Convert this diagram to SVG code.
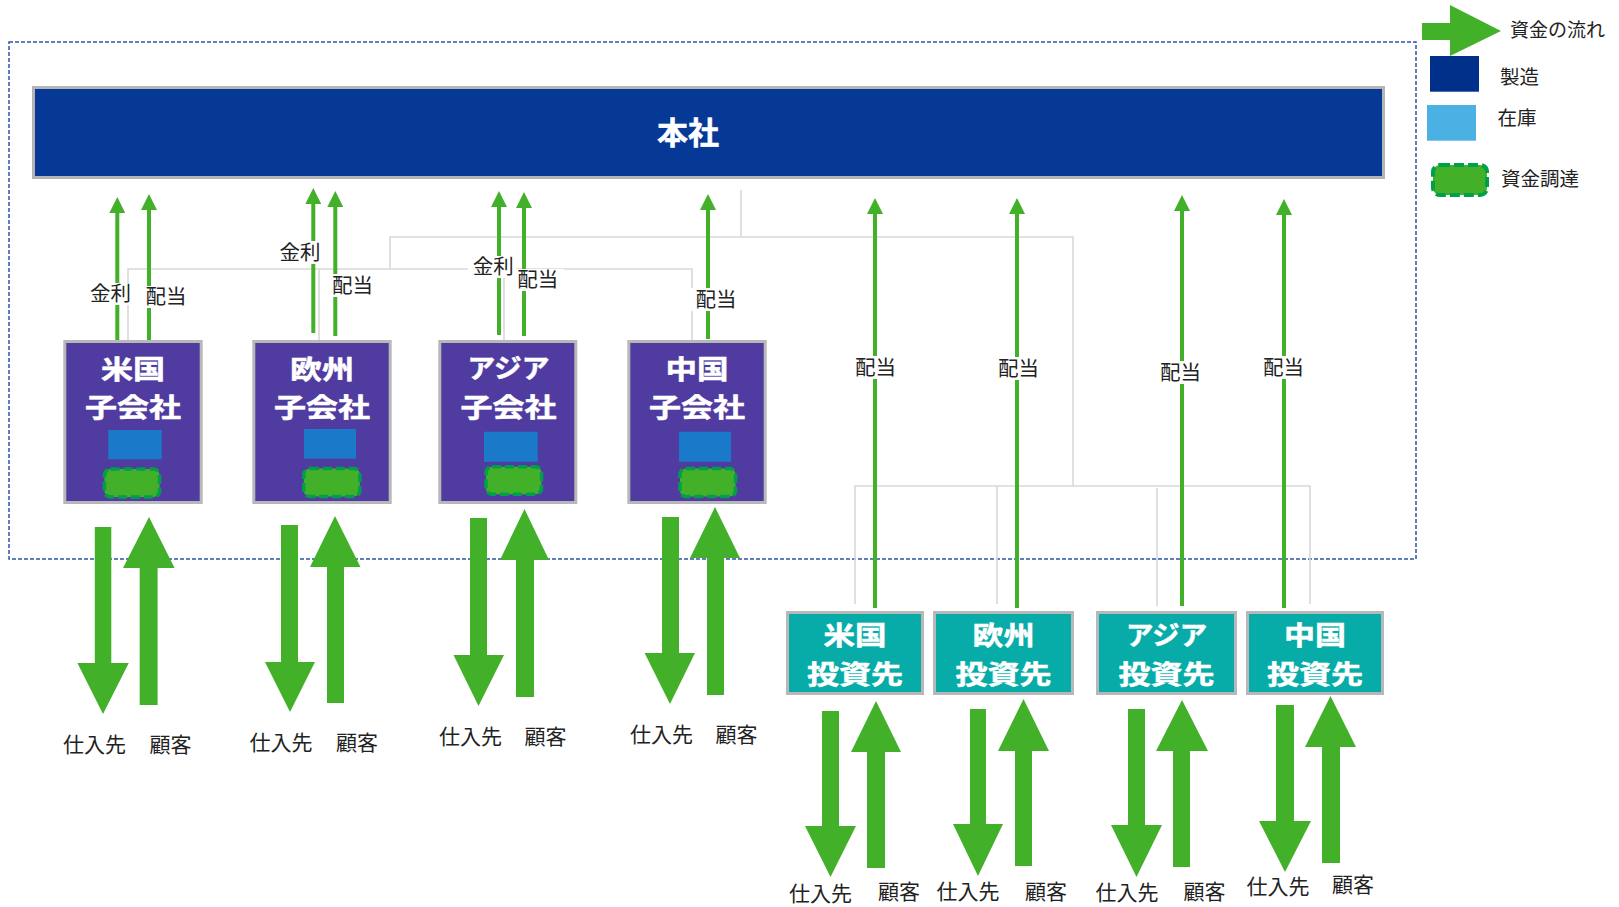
<svg xmlns="http://www.w3.org/2000/svg" width="1619" height="907" viewBox="0 0 1619 907">
<style>
text{font-family:"Noto Sans CJK JP","Noto Sans",sans-serif;dominant-baseline:central;text-anchor:middle}
.box-t{fill:#fff;stroke:#fff;stroke-width:0.5;font-weight:bold;font-size:26.5px}
.lbl{fill:#222;font-size:20.5px}
.pt{fill:#222;font-size:21px}
.leg{fill:#222;font-size:19.5px;text-anchor:start}
.sub{fill:#503ca0;stroke:#b8b8b8;stroke-width:3}
.inv{fill:#07aca9;stroke:#b8b8b8;stroke-width:3}
.stock{fill:#1a79c9}
.fund{fill:#43b02a;stroke:#00a04a;stroke-width:3.5;stroke-dasharray:9 4}
.tree{fill:none;stroke:#d9d9d9;stroke-width:1.6}
.g{stroke:#43b02a;stroke-width:4;fill:none}
.blk{fill:#43b02a}
.wbg{fill:#fff}
</style>
<defs>
<marker id="ah" markerWidth="16" markerHeight="16" viewBox="0 0 16 16" refX="1" refY="8" orient="auto" markerUnits="userSpaceOnUse"><path d="M0,0 L16,8 L0,16 z" fill="#43b02a"/></marker>
</defs>
<rect width="1619" height="907" fill="#fff"/>

<g id="boundary">
<rect x="9" y="42" width="1407" height="517" fill="none" stroke="#2f56a8" stroke-width="1.5" stroke-dasharray="4 2"/>
</g>

<g id="connectors">
<path class="tree" d="M128,340 V269 H692 V340 M319,340 V269 M504,340 V269 M390,269 V237 H1073 V486 M741,190 V237 M855,604 V486 H1310 V604 M997,604 V486 M1157,606 V488"/>
<line class="g" x1="117.3" y1="341" x2="117.3" y2="212" marker-end="url(#ah)"/>
<line class="g" x1="149" y1="340" x2="149" y2="209" marker-end="url(#ah)"/>
<line class="g" x1="313.3" y1="333" x2="313.3" y2="203" marker-end="url(#ah)"/>
<line class="g" x1="335.3" y1="336" x2="335.3" y2="206" marker-end="url(#ah)"/>
<line class="g" x1="499" y1="335" x2="499" y2="206" marker-end="url(#ah)"/>
<line class="g" x1="524" y1="336" x2="524" y2="207" marker-end="url(#ah)"/>
<line class="g" x1="708" y1="339" x2="708" y2="209" marker-end="url(#ah)"/>
<line class="g" x1="875" y1="608" x2="875" y2="213" marker-end="url(#ah)"/>
<line class="g" x1="1017" y1="608" x2="1017" y2="213" marker-end="url(#ah)"/>
<line class="g" x1="1182" y1="606" x2="1182" y2="210" marker-end="url(#ah)"/>
<line class="g" x1="1284" y1="608" x2="1284" y2="214" marker-end="url(#ah)"/>
<g id="flow-labels">
<rect class="wbg" x="90" y="283" width="39" height="22"/><text class="lbl" x="110.5" y="292">金利</text>
<rect class="wbg" x="143" y="286" width="46" height="22"/><text class="lbl" x="166" y="295">配当</text>
<rect class="wbg" x="277" y="241" width="46" height="23"/><text class="lbl" x="300" y="250.5">金利</text>
<rect class="wbg" x="330" y="274" width="46" height="23"/><text class="lbl" x="352.5" y="283.5">配当</text>
<rect class="wbg" x="468" y="256" width="48" height="22"/><text class="lbl" x="493.3" y="265">金利</text>
<rect class="wbg" x="516" y="269" width="48" height="22"/><text class="lbl" x="537.7" y="278">配当</text>
<rect class="wbg" x="690" y="288" width="50" height="23"/><text class="lbl" x="716" y="297.5">配当</text>
<rect class="wbg" x="852" y="356" width="47" height="23"/><text class="lbl" x="875.5" y="365.5">配当</text>
<rect class="wbg" x="995" y="357" width="47" height="23"/><text class="lbl" x="1018.5" y="367">配当</text>
<rect class="wbg" x="1157" y="361" width="47" height="23"/><text class="lbl" x="1180.5" y="370.5">配当</text>
<rect class="wbg" x="1260" y="356" width="47" height="23"/><text class="lbl" x="1283.5" y="366">配当</text>
</g>
<g id="trade-arrows">
<polygon class="blk" points="94.8,527 111.3,527 111.3,663 128.8,663 103,714 77.4,663 94.8,663"/>
<polygon class="blk" points="139.7,705 157.6,705 157.6,568 174.6,568 149,517 123,568 139.7,568"/>
<polygon class="blk" points="281,525 298,525 298,662 315,662 290,712 265,662 281,662"/>
<polygon class="blk" points="327,703 344,703 344,567 360.5,567 335,516 310,567 327,567"/>
<polygon class="blk" points="470,518 487,518 487,655 504,655 478.5,706 453.5,655 470,655"/>
<polygon class="blk" points="516,697 534,697 534,560 549,560 524.5,509 500,560 516,560"/>
<polygon class="blk" points="662,517 679,517 679,653 695,653 670,704 644.6,653 662,653"/>
<polygon class="blk" points="707,695 724,695 724,558 740,558 715,507 690,558 707,558"/>
<polygon class="blk" points="822,711 839,711 839,826 856,826 830.5,877 805,826 822,826"/>
<polygon class="blk" points="867,868 885,868 885,752 901,752 876,701 851,752 867,752"/>
<polygon class="blk" points="970,709 986,709 986,824 1003,824 978,876 953,824 970,824"/>
<polygon class="blk" points="1015,866 1032,866 1032,751 1049,751 1023.5,699 998,751 1015,751"/>
<polygon class="blk" points="1128,709 1145,709 1145,825 1162,825 1136.5,877 1111,825 1128,825"/>
<polygon class="blk" points="1173,867 1190,867 1190,751 1208,751 1182,700 1156,751 1173,751"/>
<polygon class="blk" points="1276,705 1294,705 1294,821 1311,821 1285,872 1259,821 1276,821"/>
<polygon class="blk" points="1322,863 1340,863 1340,747 1356,747 1330.5,696 1305,747 1322,747"/>
</g>
</g>

<g id="node-honsha">
<rect x="33.5" y="87.5" width="1350" height="90" fill="#063896" stroke="#b4b4b4" stroke-width="3"/>
<text class="box-t" x="688" y="130.5" style="font-size:31px">本社</text>
</g>

<g id="node-us-sub">
<rect class="sub" x="64.8" y="341.5" width="136.4" height="161"/>
<text class="box-t" x="133" y="367.3" textLength="64" lengthAdjust="spacingAndGlyphs">米国</text>
<text class="box-t" x="133" y="405.8" textLength="96" lengthAdjust="spacingAndGlyphs">子会社</text>
<rect class="stock" x="108.3" y="430" width="53.4" height="29.3"/>
<rect class="fund" x="104.5" y="469" width="55" height="28" rx="6"/>
</g>
<g id="node-eu-sub">
<rect class="sub" x="253.8" y="341.5" width="136.4" height="161"/>
<text class="box-t" x="322" y="367.3" textLength="64" lengthAdjust="spacingAndGlyphs">欧州</text>
<text class="box-t" x="322" y="405.8" textLength="96" lengthAdjust="spacingAndGlyphs">子会社</text>
<rect class="stock" x="304" y="429" width="52" height="29.7"/>
<rect class="fund" x="303.8" y="468.5" width="56" height="28" rx="6"/>
</g>
<g id="node-asia-sub">
<rect class="sub" x="439.8" y="341.5" width="136" height="161"/>
<text class="box-t" x="508.5" y="366.5" textLength="82" lengthAdjust="spacingAndGlyphs">アジア</text>
<text class="box-t" x="508.5" y="405" textLength="96" lengthAdjust="spacingAndGlyphs">子会社</text>
<rect class="stock" x="484" y="431.7" width="53.7" height="30"/>
<rect class="fund" x="486" y="466.8" width="55.5" height="27.5" rx="6"/>
</g>
<g id="node-cn-sub">
<rect class="sub" x="628.8" y="341.5" width="136.4" height="161"/>
<text class="box-t" x="697" y="367.3" textLength="63" lengthAdjust="spacingAndGlyphs">中国</text>
<text class="box-t" x="697" y="405.8" textLength="96" lengthAdjust="spacingAndGlyphs">子会社</text>
<rect class="stock" x="679" y="431.7" width="52" height="30"/>
<rect class="fund" x="680" y="468.5" width="55.5" height="28" rx="6"/>
</g>

<g id="node-us-inv">
<rect class="inv" x="787.5" y="612.5" width="135" height="81"/>
<text class="box-t" x="855" y="633.5" textLength="63" lengthAdjust="spacingAndGlyphs">米国</text>
<text class="box-t" x="855" y="672" textLength="96" lengthAdjust="spacingAndGlyphs">投資先</text>
</g>
<g id="node-eu-inv">
<rect class="inv" x="934.5" y="612.5" width="138" height="81"/>
<text class="box-t" x="1003.5" y="633.5" textLength="62" lengthAdjust="spacingAndGlyphs">欧州</text>
<text class="box-t" x="1003.5" y="672" textLength="96" lengthAdjust="spacingAndGlyphs">投資先</text>
</g>
<g id="node-asia-inv">
<rect class="inv" x="1097.5" y="612.5" width="138" height="81"/>
<text class="box-t" x="1166.5" y="633.5" textLength="81" lengthAdjust="spacingAndGlyphs">アジア</text>
<text class="box-t" x="1166.5" y="672" textLength="96" lengthAdjust="spacingAndGlyphs">投資先</text>
</g>
<g id="node-cn-inv">
<rect class="inv" x="1247.5" y="612.5" width="135" height="81"/>
<text class="box-t" x="1315" y="633.5" textLength="62" lengthAdjust="spacingAndGlyphs">中国</text>
<text class="box-t" x="1315" y="672" textLength="96" lengthAdjust="spacingAndGlyphs">投資先</text>
</g>

<g id="node-partners">
<text class="pt" x="94.5" y="743">仕入先</text><text class="pt" x="170.5" y="743">顧客</text>
<text class="pt" x="281" y="741">仕入先</text><text class="pt" x="357" y="741">顧客</text>
<text class="pt" x="470.5" y="735">仕入先</text><text class="pt" x="545.5" y="735">顧客</text>
<text class="pt" x="661.5" y="733">仕入先</text><text class="pt" x="736.5" y="733">顧客</text>
<text class="pt" x="820.5" y="892">仕入先</text><text class="pt" x="899" y="890">顧客</text>
<text class="pt" x="968" y="890">仕入先</text><text class="pt" x="1046" y="890">顧客</text>
<text class="pt" x="1127" y="891">仕入先</text><text class="pt" x="1204.5" y="890">顧客</text>
<text class="pt" x="1278" y="885">仕入先</text><text class="pt" x="1353" y="883">顧客</text>
</g>

<g id="legend">
<polygon class="blk" points="1422,23 1450,23 1450,5 1501,31 1450,56 1450,40 1422,40"/>
<text class="leg" x="1510" y="28" style="font-size:19px">資金の流れ</text>
<rect x="1430" y="56" width="49" height="35.7" fill="#00308a"/>
<text class="leg" x="1500" y="75">製造</text>
<rect x="1427" y="105" width="49" height="35.7" fill="#4bb1e4"/>
<text class="leg" x="1497.5" y="116">在庫</text>
<rect x="1433" y="165" width="54" height="30" rx="7" fill="#43b02a" stroke="#00a04a" stroke-width="4" stroke-dasharray="10 4"/>
<text class="leg" x="1501" y="177">資金調達</text>
</g>
</svg>
